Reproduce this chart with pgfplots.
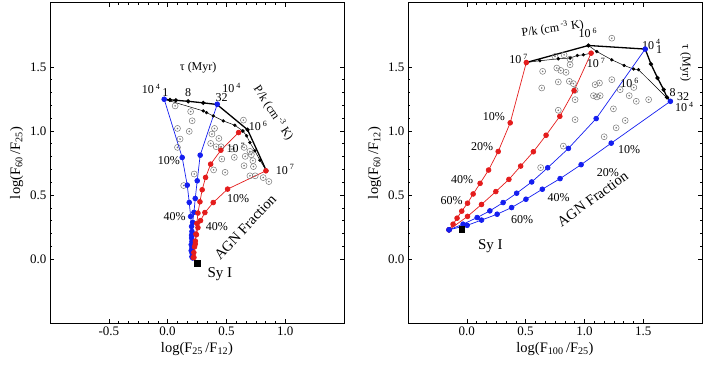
\documentclass[border=0pt]{standalone}
\usepackage{pgfplots}
\pgfplotsset{compat=1.18}
\usepackage{pgfplotstable}
\usepackage{fontspec}
\setmainfont{Liberation Serif}
\newcommand{\fs}[1]{\fontsize{#1}{#1}\selectfont}
\definecolor{mblue}{RGB}{20,30,240}
\definecolor{mred}{RGB}{228,28,28}
\definecolor{obsg}{RGB}{120,120,120}
\pgfdeclareplotmark{odot}{%
  \pgfpathcircle{\pgfpoint{0pt}{0pt}}{\pgfplotmarksize}\pgfusepath{stroke}%
  \pgfpathcircle{\pgfpoint{0pt}{0pt}}{0.3\pgfplotmarksize}\pgfusepath{fill}}

\pgfplotstableread{
x y
0.064 1.196
0.196 1.152
0.209 1.080
0.184 0.997
0.084 1.020
0.106 0.937
0.084 0.872
0.137 0.574
0.226 0.664
0.645 1.085
0.399 1.020
0.377 0.976
0.436 0.942
0.366 0.903
0.413 0.877
0.455 0.877
0.391 0.696
0.489 0.677
0.461 0.781
0.567 0.794
0.547 0.859
0.650 0.872
0.660 0.802
0.650 0.729
0.700 0.841
0.712 0.815
0.725 0.768
0.730 0.722
0.700 0.650
0.745 0.650
0.813 0.636
0.861 0.605
}\leftobs

\pgfplotstableread{
x y
1.233 1.725
0.750 1.582
0.827 1.595
0.878 1.562
0.878 1.518
0.645 1.466
0.765 1.492
0.799 1.473
0.844 1.458
0.778 1.383
0.872 1.388
0.906 1.370
0.921 1.318
0.637 1.336
0.921 1.245
0.778 1.162
0.921 1.089
0.821 0.882
1.091 1.362
1.128 1.375
1.134 1.276
1.077 1.276
1.106 1.266
1.233 1.401
1.304 1.323
1.381 1.276
1.441 1.232
1.546 1.245
1.247 1.173
1.347 1.082
1.270 1.025
1.168 0.955
1.420 1.340
0.628 0.714
}\rightobs

\pgfplotsset{
  panel/.style={
    scale only axis, width=294pt, height=320pt,
    ymin=-0.5, ymax=2.0, ytick={0,0.5,1,1.5},
    minor x tick num=5, minor y tick num=4,
    tick align=inside, major tick length=4pt, minor tick length=2pt,
    every tick/.style={black, line width=0.6pt},
    axis line style={line width=1pt},
    tick label style={font=\fs{13}},
    label style={font=\fs{14.5}},
    /pgf/number format/assume math mode=true,
    /pgf/number format/fixed, /pgf/number format/fixed zerofill,
    /pgf/number format/precision=1,
    clip=false,
  },
  bl/.style={mblue, line width=0.7pt, mark=*, mark size=2.4pt},
  rd/.style={mred, line width=0.7pt, mark=*, mark size=2.4pt},
  bk/.style={black, mark=*, mark size=1.4pt},
  obs/.style={only marks, mark=odot, mark size=3pt, obsg, line width=0.5pt},
}

\begin{document}
\begin{tikzpicture}
\useasboundingbox (0,0) rectangle (708pt,375pt);
% ---------------- LEFT PANEL
\begin{axis}[panel, at={(50pt,52pt)}, anchor=south west,
  xmin=-1, xmax=1.5, xtick={-0.5,0,0.5,1},
  xlabel={log(F\textsubscript{25}\,/F\textsubscript{12})},
  ylabel={log(F\textsubscript{60}\,/F\textsubscript{25})}]
\addplot[obs] table {\leftobs};
\addplot[bk, line width=1.3pt] coordinates {(-0.029,1.248)(0.02,1.243)(0.07,1.240)(0.175,1.232)(0.303,1.220)(0.42,1.207)(0.68,1.01)(0.84,0.689)};
\addplot[bk, line width=0.5pt] coordinates {(-0.029,1.248)(0.303,1.157)(0.331,1.144)(0.388,1.118)(0.473,1.079)(0.572,1.045)(0.64,1.0)};
\addplot[bk, line width=0.5pt] coordinates {(0.64,1.0)(0.672,0.962)(0.70,0.91)(0.742,0.845)(0.785,0.772)(0.84,0.689)};
\addplot[bl] coordinates {(-0.029,1.248)(0.124,0.793)(0.167,0.577)(0.184,0.442)(0.196,0.332)(0.204,0.254)(0.204,0.187)(0.207,0.137)(0.207,0.086)(0.209,0.044)(0.213,0.008)};
\addplot[bl] coordinates {(0.422,1.209)(0.277,0.811)(0.252,0.611)(0.235,0.473)(0.224,0.364)(0.213,0.286)(0.207,0.215)(0.204,0.164)(0.201,0.112)(0.201,0.065)(0.207,0.018)};
\addplot[rd] coordinates {(0.604,0.988)(0.453,0.850)(0.366,0.741)(0.323,0.637)(0.294,0.541)(0.275,0.447)(0.258,0.359)(0.249,0.278)(0.241,0.195)(0.235,0.117)(0.224,0.012)};
\addplot[rd] coordinates {(0.836,0.689)(0.510,0.546)(0.388,0.441)(0.317,0.363)(0.280,0.300)(0.258,0.245)(0.245,0.190)(0.236,0.140)(0.229,0.095)(0.223,0.050)(0.218,0.012)};
\addplot[only marks, mark=square*, mark size=2.8pt, black] coordinates {(0.252,-0.031)};
\node[font=\fs{12}] at (axis cs:0.26,1.495) {τ (Myr)};
\node[font=\fs{12}] at (axis cs:-0.14,1.33) {10\,\textsuperscript{4}};
\node[font=\fs{12}] at (axis cs:-0.02,1.30) {1};
\node[font=\fs{12}] at (axis cs:0.175,1.30) {8};
\node[font=\fs{12}] at (axis cs:0.46,1.26) {32};
\node[font=\fs{12}] at (axis cs:0.545,1.335) {10\,\textsuperscript{4}};
\node[font=\fs{12}, rotate=-57] at (axis cs:0.90,1.14) {P/k (cm\,\textsuperscript{-3} K)};
\node[font=\fs{12}] at (axis cs:0.77,1.04) {10\,\textsuperscript{6}};
\node[font=\fs{12}] at (axis cs:0.58,0.87) {10\,\textsuperscript{7}};
\node[font=\fs{12}] at (axis cs:1.0,0.70) {10\,\textsuperscript{7}};
\node[font=\fs{12}] at (axis cs:0.01,0.77) {10\%};
\node[font=\fs{12}] at (axis cs:0.06,0.33) {40\%};
\node[font=\fs{12}] at (axis cs:0.60,0.47) {10\%};
\node[font=\fs{12}] at (axis cs:0.42,0.25) {40\%};
\node[font=\fs{14.5}, rotate=47] at (axis cs:0.66,0.25) {AGN Fraction};
\node[font=\fs{15}] at (axis cs:0.445,-0.115) {Sy I};
\end{axis}
% ---------------- RIGHT PANEL
\begin{axis}[panel, at={(408pt,52pt)}, anchor=south west,
  xmin=-0.5, xmax=2.0, xtick={0,0.5,1,1.5},
  xlabel={log(F\textsubscript{100}\,/F\textsubscript{25})},
  ylabel={log(F\textsubscript{60}\,/F\textsubscript{12})}]
\addplot[obs] table {\rightobs};
\addplot[bk, line width=1.3pt] coordinates {(0.506,1.535)(1.034,1.668)(1.517,1.640)(1.566,1.523)(1.622,1.414)(1.674,1.323)(1.702,1.263)(1.731,1.232)};
\addplot[bk, line width=0.5pt] coordinates {(0.506,1.535)(0.622,1.549)(0.778,1.564)(0.878,1.570)(0.94,1.59)(0.991,1.595)(1.057,1.608)};
\addplot[bk, line width=0.5pt] coordinates {(1.034,1.668)(1.105,1.621)(1.233,1.556)(1.338,1.512)(1.418,1.484)(1.46,1.479)(1.731,1.232)};
\addplot[rd] coordinates {(-0.151,0.228)(-0.117,0.272)(-0.083,0.319)(-0.043,0.374)(0.006,0.436)(0.054,0.508)(0.113,0.591)(0.185,0.695)(0.267,0.840)(0.369,1.064)(0.506,1.535)};
\addplot[rd] coordinates {(-0.151,0.228)(0.006,0.333)(0.125,0.426)(0.247,0.527)(0.358,0.622)(0.458,0.726)(0.566,0.838)(0.674,0.967)(0.791,1.115)(0.912,1.315)(1.057,1.608)};
\addplot[bl] coordinates {(-0.151,0.228)(-0.032,0.272)(0.088,0.324)(0.196,0.376)(0.309,0.441)(0.424,0.514)(0.552,0.602)(0.688,0.713)(0.864,0.864)(1.100,1.097)(1.517,1.640)};
\addplot[bl] coordinates {(-0.151,0.228)(0.003,0.263)(0.125,0.304)(0.258,0.350)(0.381,0.402)(0.503,0.467)(0.642,0.545)(0.793,0.628)(0.972,0.737)(1.228,0.905)(1.731,1.232)};
\addplot[only marks, mark=square*, mark size=2.8pt, black] coordinates {(-0.045,0.233)};
\node[font=\fs{12}, rotate=8] at (axis cs:0.73,1.80) {P/k (cm\,\textsuperscript{-3} K)};
\node[font=\fs{12}] at (axis cs:1.03,1.765) {10\,\textsuperscript{6}};
\node[font=\fs{12}] at (axis cs:0.44,1.565) {10\,\textsuperscript{7}};
\node[font=\fs{12}] at (axis cs:1.57,1.675) {10\,\textsuperscript{4}};
\node[font=\fs{12}] at (axis cs:1.635,1.64) {1};
\node[font=\fs{12}] at (axis cs:1.10,1.53) {10\,\textsuperscript{7}};
\node[font=\fs{12}] at (axis cs:1.385,1.375) {10\,\textsuperscript{6}};
\node[font=\fs{12}, rotate=-90] at (axis cs:1.86,1.53) {τ (Myr)};
\node[font=\fs{12}] at (axis cs:1.75,1.30) {8};
\node[font=\fs{12}] at (axis cs:1.84,1.27) {32};
\node[font=\fs{12}] at (axis cs:1.85,1.19) {10\,\textsuperscript{4}};
\node[font=\fs{12}] at (axis cs:0.23,1.115) {10\%};
\node[font=\fs{12}] at (axis cs:0.13,0.88) {20\%};
\node[font=\fs{12}] at (axis cs:-0.04,0.62) {40\%};
\node[font=\fs{12}] at (axis cs:-0.13,0.46) {60\%};
\node[font=\fs{12}] at (axis cs:1.38,0.855) {10\%};
\node[font=\fs{12}] at (axis cs:1.20,0.675) {20\%};
\node[font=\fs{12}] at (axis cs:0.78,0.48) {40\%};
\node[font=\fs{12}] at (axis cs:0.47,0.31) {60\%};
\node[font=\fs{14.5}, rotate=36] at (axis cs:1.07,0.47) {AGN Fraction};
\node[font=\fs{15}] at (axis cs:0.20,0.10) {Sy I};
\end{axis}
\end{tikzpicture}
\end{document}
